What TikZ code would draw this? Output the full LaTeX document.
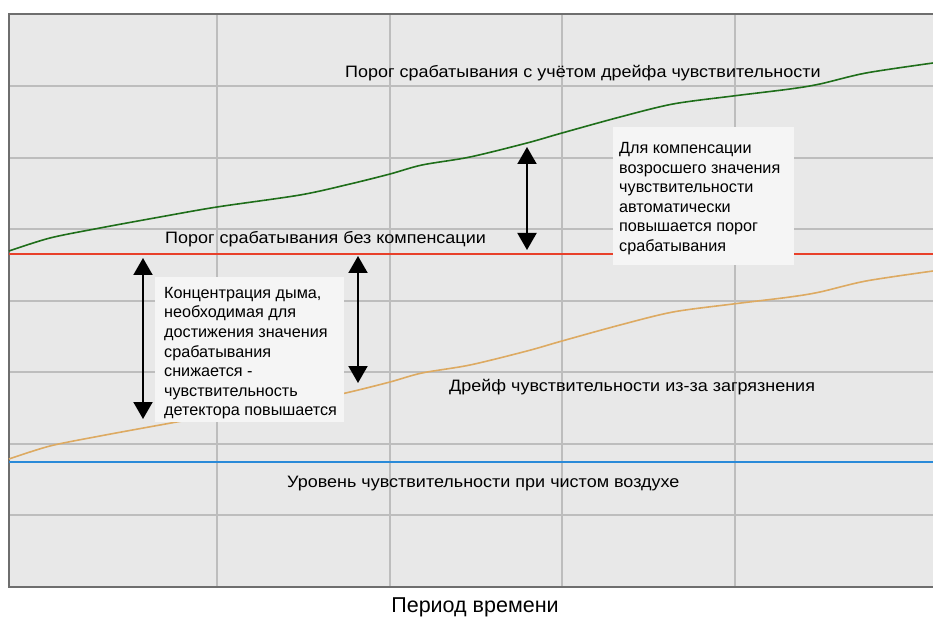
\documentclass[tikz,border=0pt]{standalone}
\usepackage{fontspec}
\setmainfont{Liberation Sans}
\newfontfamily\widefont{Liberation Sans}[FakeStretch=1.09]
\usetikzlibrary{arrows.meta}
\definecolor{plotbg}{HTML}{E8E8E8}
\definecolor{gridc}{HTML}{BDBDBD}
\definecolor{framec}{HTML}{6E6E6E}
\definecolor{greenc}{HTML}{1F6E1A}
\definecolor{redc}{HTML}{E8402A}
\definecolor{tanc}{HTML}{DDAA62}
\definecolor{bluec}{HTML}{2A8AD8}
\definecolor{boxc}{HTML}{F5F5F5}
\tikzset{
  gridline/.style={draw=gridc, line width=1.3pt},
  frameline/.style={draw=framec, line width=1.6pt},
  curve/.style={line width=1.6pt, smooth, tension=0.5},
  label/.style={inner sep=0pt, font=\widefont\fontsize{16.5}{18}\selectfont, text=black},
  boxtext/.style={inner sep=0pt, align=left, font=\fontsize{16.2}{19.6}\selectfont, text=black},
  infobox/.style={fill=boxc, draw=none, inner sep=0pt, anchor=north west},
  dblarrow/.style={line width=2pt, {Triangle[width=19pt,length=17pt]}-{Triangle[width=19pt,length=17pt]}},
}
\begin{document}
\begin{tikzpicture}[x=1pt,y=-1pt]
\useasboundingbox (0,0) rectangle (933,617);
\fill[white] (0,0) rectangle (933,617);
% plot area
\fill[plotbg] (9,14) rectangle (933,587);
\foreach \yy in {86,158,229,301,372,444,515}
  \draw[gridline] (9,\yy) -- (933,\yy);
\foreach \xx in {217,390,562,735}
  \draw[gridline] (\xx,14) -- (\xx,587);
\draw[frameline] (933,14) -- (9,14) -- (9,587) -- (933,587);
% curves
\def\curvepts{(9,251) (50,238) (100,228) (160,217) (217,207) (300,195) (350,184) (390,174) (422,165) (470,157) (527,143) (562,133) (620,117) (673,104) (733,96) (790,89) (820,84) (866,73) (933,63)}
\draw[greenc, curve] plot coordinates {\curvepts};
\draw[tanc, curve, yshift=-208pt] plot coordinates {\curvepts};
\draw[redc, line width=1.6pt] (9,254) -- (933,254);
\draw[bluec, line width=1.6pt] (9,462) -- (933,462);
% labels
\node[label, anchor=base west] (lgreen) at (345,77.5) {Порог срабатывания с учётом дрейфа чувствительности};
\node[label, anchor=base west] (lred) at (165,243.5) {Порог срабатывания без компенсации};
\node[label, anchor=base west] (ltan) at (449,391) {Дрейф чувствительности из-за загрязнения};
\node[label, anchor=base west] (lblue) at (287,487) {Уровень чувствительности при чистом воздухе};
\node[inner sep=0pt, anchor=base, font=\fontsize{21.5}{24}\selectfont] (lx) at (475,612) {Период времени};
% info boxes
\node[infobox, minimum width=181pt, minimum height=138pt] (rbox) at (613,127) {};
\node[boxtext, anchor=base west] (rtext) at (619,251.5) {Для компенсации\\возросшего значения\\чувствительности\\автоматически\\повышается порог\\срабатывания};
\node[infobox, minimum width=189pt, minimum height=145pt] (lbox) at (155,277) {};
\node[boxtext, anchor=base west] (ltext) at (164,415.9) {Концентрация дыма,\\необходимая для\\достижения значения\\срабатывания\\снижается -\\чувствительность\\детектора повышается};
% arrows
\coordinate (a1t) at (527,147);
\coordinate (a1b) at (527,250);
\coordinate (a2t) at (143,258);
\coordinate (a2b) at (143,419);
\coordinate (a3t) at (358,256);
\coordinate (a3b) at (358,383);
\draw[dblarrow] (a1t) -- (a1b);
\draw[dblarrow] (a2t) -- (a2b);
\draw[dblarrow] (a3t) -- (a3b);
\end{tikzpicture}
\end{document}
